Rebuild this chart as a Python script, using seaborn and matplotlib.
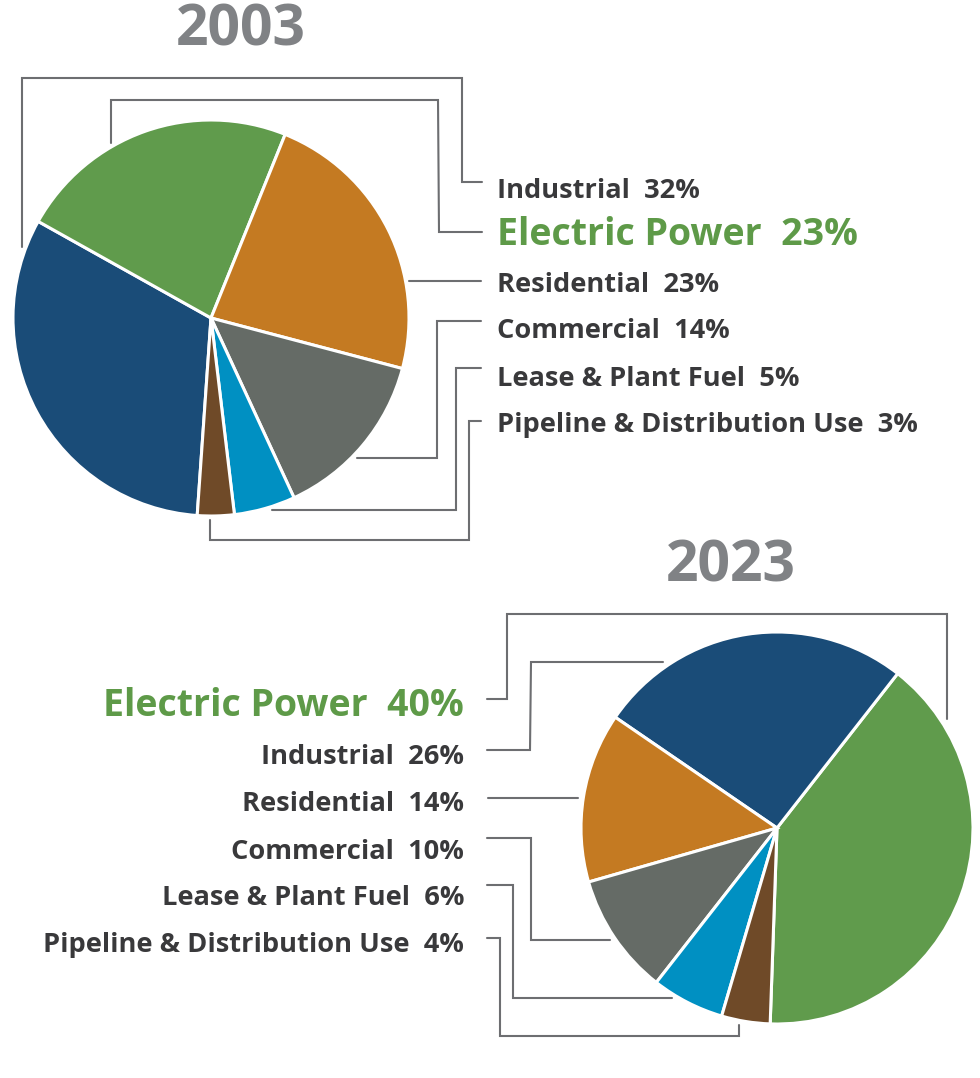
import matplotlib
matplotlib.use("Agg")
import matplotlib.pyplot as plt
import seaborn as sns

# data
sectors_2003 = ["Industrial", "Electric Power", "Residential", "Commercial",
                "Lease & Plant Fuel", "Pipeline & Distribution Use"]
shares_2003 = [32, 23, 23, 14, 5, 3]

sectors_2023 = ["Electric Power", "Industrial", "Residential", "Commercial",
                "Lease & Plant Fuel", "Pipeline & Distribution Use"]
shares_2023 = [40, 26, 14, 10, 6, 4]

sector_colors = {
    "Industrial": "#1a4c78",
    "Electric Power": "#609b4c",
    "Residential": "#c47a22",
    "Commercial": "#656b66",
    "Lease & Plant Fuel": "#0090c2",
    "Pipeline & Distribution Use": "#6f4a28",
}

sns.set_theme(style="white")
plt.rcParams["font.family"] = ["Open Sans", "DejaVu Sans"]

W, H = 980, 1078
fig = plt.figure(figsize=(W / 100, H / 100), dpi=100)
fig.patch.set_facecolor("white")

# overlay in pixel coords for titles, labels and leader lines
bg = fig.add_axes([0, 0, 1, 1])
bg.set_xlim(0, W)
bg.set_ylim(H, 0)
bg.axis("off")

TXT = "#39393b"
GREEN = "#5e9a48"
LINE = "#6d6e71"


def pie_axes(cx, cy, r):
    return fig.add_axes([(cx - r) / W, 1 - (cy + r) / H, 2 * r / W, 2 * r / H])


def draw_pie(ax, shares, sectors, start, ccw):
    ax.pie(shares, colors=[sector_colors[s] for s in sectors],
           startangle=start, counterclock=ccw,
           wedgeprops=dict(edgecolor="white", linewidth=2.2))
    ax.set_xlim(-1, 1)
    ax.set_ylim(-1, 1)
    ax.set_aspect("equal")
    ax.axis("off")


draw_pie(pie_axes(211, 318, 198), shares_2003, sectors_2003, -94, False)
draw_pie(pie_axes(777, 828, 196), shares_2023, sectors_2023, -92, True)

# titles
bg.text(241, 46, "2003", fontsize=41, fontweight="bold", color="#808285",
        ha="center", va="baseline")
bg.text(731, 581, "2023", fontsize=41, fontweight="bold", color="#808285",
        ha="center", va="baseline")

# labels
base_2003 = [198, 245, 292, 338, 386, 432]
for name, val, y in zip(sectors_2003, shares_2003, base_2003):
    big = name == "Electric Power"
    bg.text(497, y, f"{name}  {val}%", fontsize=27 if big else 19.6,
            fontweight="bold", color=GREEN if big else TXT,
            ha="left", va="baseline")

base_2023 = [716, 764, 811, 859, 905, 952]
for name, val, y in zip(sectors_2023, shares_2023, base_2023):
    big = name == "Electric Power"
    bg.text(464, y, f"{name}  {val}%", fontsize=27 if big else 19.6,
            fontweight="bold", color=GREEN if big else TXT,
            ha="right", va="baseline")

# leader lines
leaders = [
    [(22, 247), (22, 78), (462, 78), (462, 182), (482, 182)],
    [(111, 143), (111, 100), (438, 100), (439, 232), (482, 232)],
    [(409, 281), (481, 281)],
    [(357, 458), (437, 458), (437, 321), (481, 321)],
    [(272, 510), (456, 510), (456, 368), (481, 368)],
    [(210, 520), (210, 540), (469, 540), (469, 421), (481, 421)],
    [(487, 699), (507, 699), (507, 614), (947, 614), (947, 719)],
    [(487, 750), (530, 750), (531, 662), (663, 662)],
    [(488, 798), (578, 798)],
    [(487, 838), (531, 838), (531, 940), (610, 940)],
    [(487, 885), (513, 885), (513, 998), (672, 998)],
    [(487, 938), (500, 938), (500, 1036), (739, 1036), (739, 1025)],
]
for pts in leaders:
    xs, ys = zip(*pts)
    bg.plot(xs, ys, color=LINE, lw=1.5, solid_joinstyle="miter")

fig.savefig("out.png", dpi=100, facecolor="white")
